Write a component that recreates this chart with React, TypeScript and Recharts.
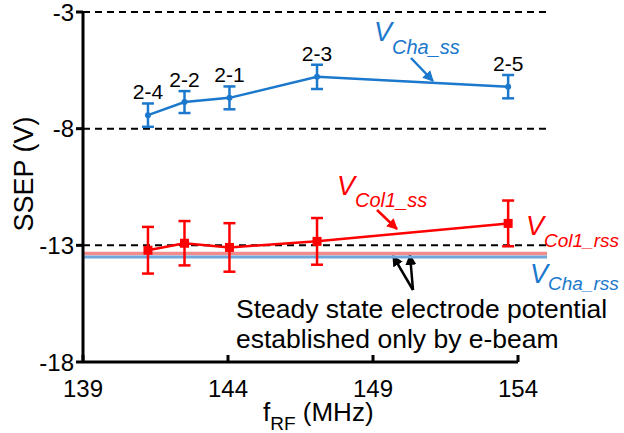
import React from 'react';
import {
  ComposedChart,
  Line,
  XAxis,
  YAxis,
  ReferenceLine,
  ErrorBar,
  LabelList,
  Customized,
} from 'recharts';

// ---- data ----
const freqs = [141.24, 142.5, 144.05, 147.07, 153.66];
const sampleLabels = ['2-4', '2-2', '2-1', '2-3', '2-5'];
const chaSS = [-7.42, -6.86, -6.68, -5.78, -6.2];
const chaErr = [0.5, 0.47, 0.49, 0.52, 0.5];
const col1SS = [-13.21, -12.91, -13.09, -12.83, -12.06];
const col1Err = [1.0, 0.95, 1.04, 1.0, 0.98];
const chaRss = -13.5;
const col1Rss = -13.35;
const xTicks = [139, 144, 149, 154];
const yTicks = [-3, -8, -13, -18];
const guideLevels = [-3, -8, -13];
const xStart = 139;
const guideEnd = 155;

const BLUE = '#1b78cc';
const RED = '#ff0000';
const PINK = '#f28b8b';
const LIGHTBLUE = '#6fa6dc';
const FONT = '"Liberation Sans", Arial, Helvetica, sans-serif';

const data = freqs.map((f, i) => ({
  f,
  label: sampleLabels[i],
  cha: chaSS[i],
  chaErr: chaErr[i],
  chaTop: chaSS[i] + chaErr[i],
  col1: col1SS[i],
  col1Err: col1Err[i],
}));

const BlueDot = (props: any) => {
  const { cx, cy, index } = props;
  if (cx == null || cy == null) return null;
  return <circle key={`bd-${index}`} cx={cx} cy={cy} r={3} fill={BLUE} />;
};

const RedDot = (props: any) => {
  const { cx, cy, index } = props;
  if (cx == null || cy == null) return null;
  return <rect key={`rd-${index}`} x={cx - 4.5} y={cy - 4.5} width={9} height={9} fill={RED} />;
};

const XTick = (props: any) => {
  const { x, y, payload } = props;
  return (
    <g>
      <line x1={x} y1={y} x2={x} y2={y - 7} stroke="#000" strokeWidth={3} />
      <text x={x} y={y + 35} textAnchor="middle" fontSize={24} fill="#000" fontFamily={FONT}>
        {payload.value}
      </text>
    </g>
  );
};

const YTick = (props: any) => {
  const { x, y, payload } = props;
  return (
    <text x={x} y={y} textAnchor="end" dominantBaseline="central" fontSize={24} fill="#000" fontFamily={FONT}>
      {payload.value}
    </text>
  );
};

const Annotations = () => (
  <g fontFamily={FONT}>
    <defs>
      <marker id="ahBlue" viewBox="0 0 10 10" refX="9" refY="5" markerWidth="11" markerHeight="11" markerUnits="userSpaceOnUse" orient="auto">
        <path d="M0,0 L10,5 L0,10 z" fill={BLUE} />
      </marker>
      <marker id="ahRed" viewBox="0 0 10 10" refX="9" refY="5" markerWidth="11" markerHeight="11" markerUnits="userSpaceOnUse" orient="auto">
        <path d="M0,0 L10,5 L0,10 z" fill={RED} />
      </marker>
      <marker id="ahBlack" viewBox="0 0 10 10" refX="9" refY="5" markerWidth="11" markerHeight="11" markerUnits="userSpaceOnUse" orient="auto">
        <path d="M0,0 L10,5 L0,10 z" fill="#000" />
      </marker>
    </defs>

    {/* axis titles */}
    <text
      x={24}
      y={174}
      transform="rotate(-90 24 174)"
      textAnchor="middle"
      dominantBaseline="central"
      fontSize={27}
      fill="#000"
    >
      SSEP (V)
    </text>
    <text x={263} y={421} fontSize={26} fill="#000">
      f<tspan fontSize={19} dy={9}>RF</tspan>
      <tspan dy={-9}> (MHz)</tspan>
    </text>

    {/* series labels */}
    <text x={374} y={41} fontSize={27} fill={BLUE} fontStyle="italic">
      V<tspan fontSize={20} dy={13}>Cha_ss</tspan>
    </text>
    <line x1={411} y1={58} x2={433} y2={81} stroke={BLUE} strokeWidth={2.5} markerEnd="url(#ahBlue)" />

    <text x={337} y={195} fontSize={27} fill={RED} fontStyle="italic">
      V<tspan fontSize={20} dy={12}>Col1_ss</tspan>
    </text>
    <line x1={377} y1={210} x2={397} y2={229} stroke={RED} strokeWidth={2.5} markerEnd="url(#ahRed)" />

    <text x={526} y={235} fontSize={27} fill={RED} fontStyle="italic">
      V<tspan fontSize={19} dy={12}>Col1_rss</tspan>
    </text>
    <text x={530} y={283} fontSize={27} fill={BLUE} fontStyle="italic">
      V<tspan fontSize={19} dy={7}>Cha_rss</tspan>
    </text>

    {/* rss annotation */}
    <line x1={413} y1={290} x2={393} y2={256} stroke="#000" strokeWidth={2.5} markerEnd="url(#ahBlack)" />
    <line x1={413} y1={290} x2={410} y2={255} stroke="#000" strokeWidth={2.5} markerEnd="url(#ahBlack)" />
    <text x={236} y={318} fontSize={26.5} fill="#000">
      Steady state electrode potential
    </text>
    <text x={236} y={348} fontSize={26.5} fill="#000">
      established only by e-beam
    </text>
  </g>
);

export default function App() {
  return (
    <div style={{ width: 624, height: 433 }}>
      <style>{'body{margin:0}'}</style>
      <ComposedChart
        width={624}
        height={433}
        data={data}
        margin={{ top: 12, right: 106, bottom: 26, left: 0 }}
        style={{ fontFamily: FONT }}
      >
        <XAxis
          dataKey="f"
          type="number"
          domain={[139, 154]}
          ticks={xTicks}
          interval={0}
          allowDataOverflow
          height={45}
          stroke="#000"
          strokeWidth={3}
          tickLine={false}
          tickSize={0}
          tickMargin={0}
          tick={<XTick />}
        />
        <YAxis
          type="number"
          domain={[-18, -3]}
          ticks={yTicks}
          interval={0}
          allowDataOverflow
          width={83}
          stroke="#000"
          strokeWidth={3}
          tickSize={7}
          tickMargin={2}
          tick={<YTick />}
          tickLine={{ stroke: '#000', strokeWidth: 3 }}
        />

        {guideLevels.map((lvl) => (
          <ReferenceLine
            key={`g${lvl}`}
            segment={[
              { x: xStart, y: lvl },
              { x: guideEnd, y: lvl },
            ]}
            stroke="#000"
            strokeWidth={2}
            strokeDasharray="7 5"
            ifOverflow="visible"
          />
        ))}
        <ReferenceLine
          segment={[
            { x: xStart, y: col1Rss },
            { x: guideEnd, y: col1Rss },
          ]}
          stroke={PINK}
          strokeWidth={3.5}
          ifOverflow="visible"
        />
        <ReferenceLine
          segment={[
            { x: xStart, y: chaRss },
            { x: guideEnd, y: chaRss },
          ]}
          stroke={LIGHTBLUE}
          strokeWidth={3}
          ifOverflow="visible"
        />

        <Line
          dataKey="cha"
          type="linear"
          stroke={BLUE}
          strokeWidth={2.5}
          dot={<BlueDot />}
          activeDot={false}
          isAnimationActive={false}
        >
          <ErrorBar dataKey="chaErr" width={6} stroke={BLUE} strokeWidth={2.5} direction="y" />
        </Line>
        <Line
          dataKey="chaTop"
          type="linear"
          stroke="none"
          dot={false}
          activeDot={false}
          isAnimationActive={false}
        >
          <LabelList dataKey="label" position="top" offset={4} fill="#000" fontSize={21} />
        </Line>
        <Line
          dataKey="col1"
          type="linear"
          stroke={RED}
          strokeWidth={2.5}
          dot={<RedDot />}
          activeDot={false}
          isAnimationActive={false}
        >
          <ErrorBar dataKey="col1Err" width={6} stroke={RED} strokeWidth={2.5} direction="y" />
        </Line>

        <Customized component={Annotations} />
      </ComposedChart>
    </div>
  );
}
